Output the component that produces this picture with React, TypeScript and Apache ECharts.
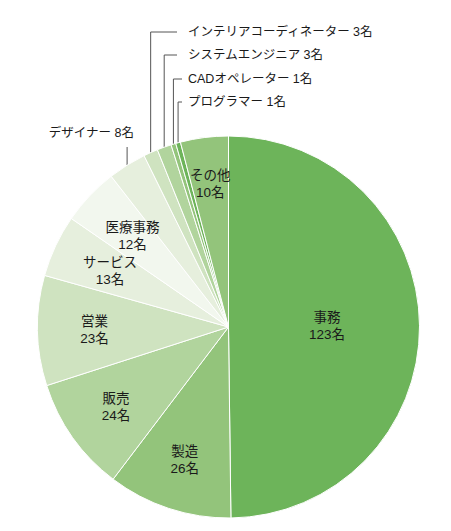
import { useEffect, useRef } from "react";
import * as echarts from "echarts";

const categories = [
  "事務",
  "製造",
  "販売",
  "営業",
  "サービス",
  "医療事務",
  "デザイナー",
  "インテリアコーディネーター",
  "システムエンジニア",
  "CADオペレーター",
  "プログラマー",
  "その他",
];
const counts = [123, 26, 24, 23, 13, 12, 8, 3, 3, 1, 1, 10];
const unitLabel = "名";
const sliceColors = [
  "#6db45a",
  "#93c47b",
  "#b1d49d",
  "#cfe3c0",
  "#e6efdd",
  "#f2f7ee",
  "#e6efdd",
  "#cfe3c0",
  "#b1d49d",
  "#93c47b",
  "#6db45a",
  "#93c47b",
];

// layout (pixels)
const CX = 228.5;
const CY = 327;
const R = 191;
const START_ANGLE = 90;
// inner label radius per slice (null = default inside position)
const innerLabelRadius: Record<string, number | null> = {
  事務: null,
  製造: 140,
  販売: 138,
  営業: 134,
  サービス: 131,
  医療事務: 132,
  その他: 144,
};
// outer labels: "up" = label above a vertical leader; "right" = leader goes up then right
const outerLabels: Record<string, { kind: string; x: number; y: number; lineTop?: number; lineEnd?: number }> = {
  デザイナー: { kind: "up", x: 134, y: 133, lineTop: 147 },
  インテリアコーディネーター: { kind: "right", x: 188, y: 32, lineEnd: 177 },
  システムエンジニア: { kind: "right", x: 188, y: 55, lineEnd: 177 },
  CADオペレーター: { kind: "right", x: 188, y: 79, lineEnd: 182 },
  プログラマー: { kind: "right", x: 188, y: 102, lineEnd: 182 },
};

const FONT = "'Liberation Sans', 'Noto Sans CJK JP', sans-serif";

export default function App() {
  const ref = useRef<HTMLDivElement>(null);

  useEffect(() => {
    if (!ref.current) return;
    const chart = echarts.init(ref.current, undefined, { renderer: "svg" });
    const total = counts.reduce((a, b) => a + b, 0);
    const midAngles: number[] = [];
    let cum = 0;
    counts.forEach((v) => {
      midAngles.push(((cum + v / 2) / total) * 360); // clockwise from top
      cum += v;
    });

    const data = categories.map((name, i) => {
      const isOuter = !!outerLabels[name];
      return {
        name,
        value: counts[i],
        itemStyle: { color: sliceColors[i] },
        label: isOuter
          ? {
              show: true,
              position: "outside",
              formatter: "{b} {c}" + unitLabel,
              fontSize: 12.5,
            }
          : {
              show: true,
              position: "inside",
              formatter: "{b}\n{c}" + unitLabel,
              fontSize: 13.5,
              lineHeight: 17,
            },
        labelLine: { show: isOuter },
      };
    });

    chart.setOption({
      animation: false,
      backgroundColor: "#ffffff",
      series: [
        {
          type: "pie",
          center: [CX, CY],
          radius: [0, R],
          startAngle: START_ANGLE,
          clockwise: true,
          avoidLabelOverlap: false,
          minShowLabelAngle: 0,
          itemStyle: { borderColor: "#ffffff", borderWidth: 1 },
          label: {
            color: "#1a1a1a",
            fontFamily: FONT,
            fontSize: 13,
          },
          labelLine: {
            show: true,
            lineStyle: { color: "#555555", width: 1 },
            length: 10,
            length2: 10,
          },
          emphasis: { disabled: true },
          labelLayout: (p: any) => {
            const i = p.dataIndex;
            const name = categories[i];
            const theta = (midAngles[i] * Math.PI) / 180;
            const spec = outerLabels[name];
            if (spec) {
              const sx = CX + R * Math.sin(theta);
              const sy = CY - R * Math.cos(theta);
              if (spec.kind === "up") {
                return {
                  x: spec.x,
                  y: spec.y,
                  align: "right",
                  verticalAlign: "middle",
                  labelLinePoints: [
                    [sx, sy],
                    [sx, spec.lineTop],
                    [sx, spec.lineTop],
                  ],
                };
              }
              return {
                x: spec.x,
                y: spec.y,
                align: "left",
                verticalAlign: "middle",
                labelLinePoints: [
                  [sx, sy],
                  [sx, spec.y],
                  [spec.lineEnd, spec.y],
                ],
              };
            }
            const rr = innerLabelRadius[name];
            if (rr) {
              return {
                x: CX + rr * Math.sin(theta),
                y: CY - rr * Math.cos(theta),
                align: "center",
                verticalAlign: "middle",
              };
            }
            return {};
          },
          data,
        },
      ],
    });
    return () => chart.dispose();
  }, []);

  return (
    <div
      ref={ref}
      style={{ position: "fixed", left: 0, top: 0, width: 451, height: 531 }}
    />
  );
}
